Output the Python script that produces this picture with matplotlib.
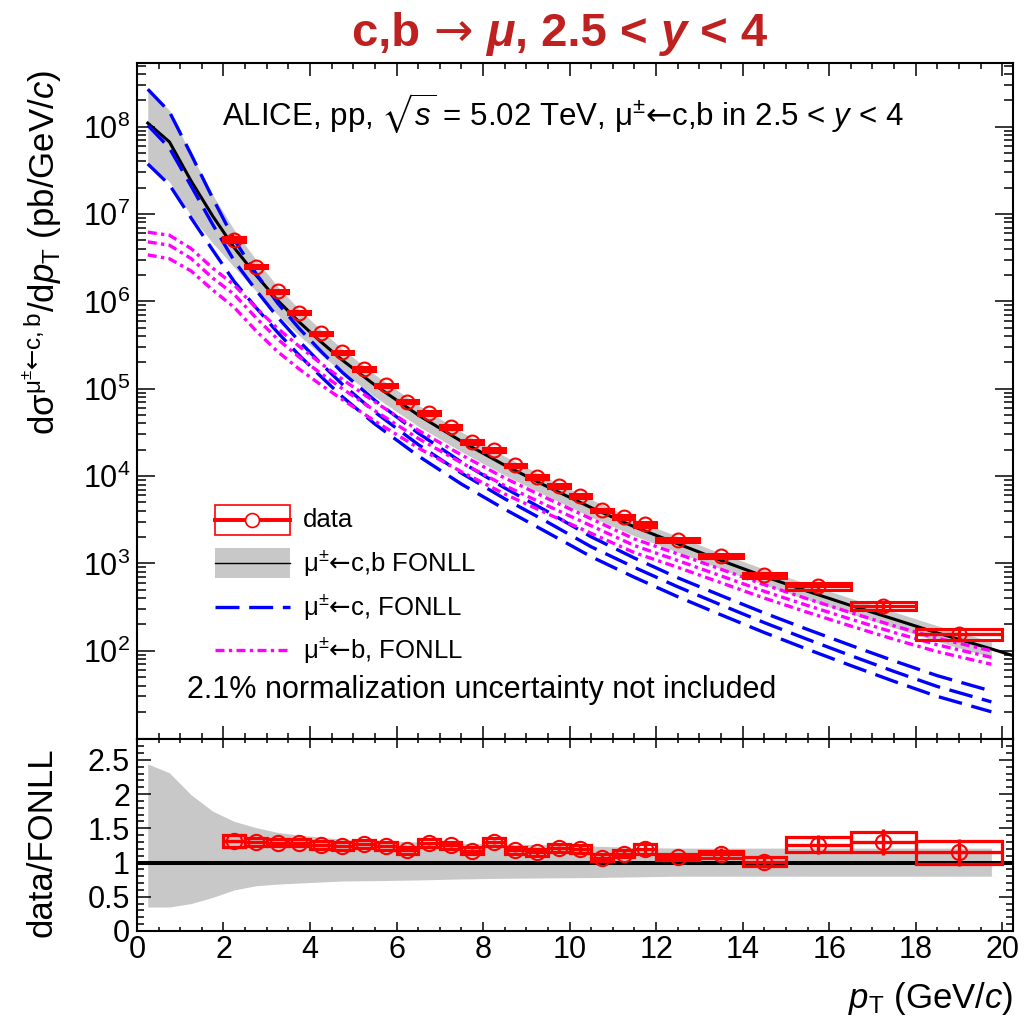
import numpy as np
import matplotlib
matplotlib.use('Agg')
from matplotlib import pyplot as plt
import matplotlib.patches as mpatches
from matplotlib.lines import Line2D
from matplotlib.ticker import FixedLocator, MultipleLocator, LogLocator, NullFormatter, FuncFormatter

plt.rcParams['font.family'] = ['Liberation Sans', 'DejaVu Sans']
plt.rcParams['mathtext.fontset'] = 'custom'
plt.rcParams['mathtext.rm'] = 'Liberation Sans'
plt.rcParams['mathtext.it'] = 'Liberation Sans:italic'
plt.rcParams['mathtext.bf'] = 'Liberation Sans:bold'
plt.rcParams['mathtext.sf'] = 'DejaVu Sans'
plt.rcParams['mathtext.fallback'] = 'stixsans'

## measured points (pT bins)
pt_lo = [2, 2.5, 3, 3.5, 4, 4.5, 5, 5.5, 6, 6.5, 7, 7.5, 8, 8.5, 9, 9.5,
         10, 10.5, 11, 11.5, 12, 13, 14, 15, 16.5, 18]
pt_hi = [2.5, 3, 3.5, 4, 4.5, 5, 5.5, 6, 6.5, 7, 7.5, 8, 8.5, 9, 9.5, 10,
         10.5, 11, 11.5, 12, 13, 14, 15, 16.5, 18, 20]
pt_pt = [2.25, 2.75, 3.25, 3.75, 4.25, 4.75, 5.25, 5.75, 6.25, 6.75, 7.25,
         7.75, 8.25, 8.75, 9.25, 9.75, 10.25, 10.75, 11.25, 11.75, 12.5,
         13.5, 14.5, 15.75, 17.25, 19]
xsec = [5.1e6, 2.5e6, 1.3e6, 7.4e5, 4.3e5, 2.6e5, 1.69e5, 1.09e5, 7.1e4,
        5.3e4, 3.66e4, 2.47e4, 1.98e4, 1.33e4, 9.8e3, 7.7e3, 5.9e3, 4.07e3,
        3.41e3, 2.81e3, 1.85e3, 1.21e3, 733, 548, 326, 157]
stat_rel = [0.01, 0.01, 0.01, 0.01, 0.01, 0.01, 0.015, 0.015, 0.015, 0.02,
            0.02, 0.02, 0.025, 0.025, 0.03, 0.03, 0.035, 0.05, 0.05, 0.05,
            0.05, 0.08, 0.09, 0.11, 0.15, 0.17]
syst_rel = [0.065, 0.045, 0.04, 0.04, 0.045, 0.045, 0.045, 0.045, 0.045,
            0.045, 0.045, 0.045, 0.045, 0.045, 0.045, 0.045, 0.045, 0.045,
            0.045, 0.06, 0.047, 0.046, 0.063, 0.085, 0.11, 0.145]
ratio = [1.31, 1.30, 1.29, 1.29, 1.26, 1.24, 1.27, 1.24, 1.18, 1.28, 1.25,
         1.17, 1.30, 1.18, 1.15, 1.21, 1.20, 1.07, 1.13, 1.20, 1.08, 1.12,
         1.01, 1.26, 1.30, 1.15]

## FONLL
pt_th = [0.25, 0.75, 1.25, 1.75, 2.25, 2.75, 3.25, 3.75, 4.25, 4.75, 5.5,
         6.5, 7.5, 8.5, 9.5, 10.5, 11.5, 12.5, 13.5, 14.5, 15.5, 16.5, 17.5,
         18.5, 19.75]
fonll_tot = [1.1e8, 6.7e7, 2.4e7, 9.5e6, 4.1e6, 2.0e6, 1.03e6, 5.8e5, 3.45e5,
             2.12e5, 1.1e5, 5.0e4, 2.5e4, 1.33e4, 7.5e3, 4.35e3, 2.62e3,
             1.68e3, 1.08e3, 710, 480, 330, 230, 160, 105]
tot_up = [2.44, 2.31, 1.99, 1.75, 1.60, 1.51, 1.44, 1.40, 1.37, 1.34, 1.32,
          1.30, 1.28, 1.27, 1.26, 1.24, 1.22, 1.21, 1.21, 1.21, 1.21, 1.21,
          1.21, 1.21, 1.21]
tot_lo = [0.35, 0.35, 0.40, 0.49, 0.60, 0.66, 0.685, 0.70, 0.715, 0.73,
          0.735, 0.745, 0.76, 0.77, 0.775, 0.78, 0.79, 0.80, 0.80, 0.80,
          0.80, 0.80, 0.80, 0.80, 0.80]
# central line goes on to the axis end
pt_tot_end = 20.25
fonll_tot_end = 88

fonll_c = [1.04e8, 5.7e7, 2.1e7, 7.6e6, 2.9e6, 1.35e6, 6.6e5, 3.5e5, 1.95e5,
           1.12e5, 5.4e4, 2.3e4, 1.08e4, 5.5e3, 2.95e3, 1.55e3, 900, 540,
           335, 210, 135, 88, 58, 39, 26]
c_up = [2.58, 2.6, 2.3, 2.0, 1.75, 1.55, 1.45, 1.40, 1.38, 1.37, 1.36, 1.35,
        1.34, 1.33, 1.32, 1.30, 1.28, 1.27, 1.28, 1.29, 1.30, 1.31, 1.32,
        1.33, 1.33]
c_lo = [0.36, 0.38, 0.43, 0.51, 0.58, 0.63, 0.67, 0.69, 0.71, 0.72, 0.73,
        0.74, 0.75, 0.76, 0.76, 0.77, 0.77, 0.77, 0.77, 0.77, 0.77, 0.77,
        0.77, 0.77, 0.77]

fonll_b = [4.8e6, 4.4e6, 3.1e6, 1.85e6, 1.2e6, 6.5e5, 3.7e5, 2.3e5, 1.5e5,
           1.0e5, 5.6e4, 2.7e4, 1.42e4, 7.8e3, 4.55e3, 2.7e3, 1.6e3, 1.08e3,
           720, 480, 330, 230, 162, 117, 84]
b_up = [1.29, 1.30, 1.30, 1.30, 1.28, 1.30, 1.33, 1.33, 1.30, 1.28, 1.26,
        1.24, 1.23, 1.22, 1.21, 1.20, 1.19, 1.19, 1.19, 1.19, 1.19, 1.19,
        1.19, 1.19, 1.19]
b_lo = [0.71, 0.70, 0.72, 0.73, 0.71, 0.71, 0.72, 0.73, 0.74, 0.75, 0.76,
        0.78, 0.79, 0.80, 0.81, 0.82, 0.83, 0.835, 0.835, 0.835, 0.835,
        0.835, 0.835, 0.835, 0.835]

red = '#ff0000'
grey = '#c8c8c8'
blue = '#0000ff'
magenta = '#ff00ff'
larr = '$\\mathsf{\u2190}$'   # arrow taken from DejaVu, longer than Liberation's
mupm = '\u03bc$^{\\pm}$'

pt_th = np.array(pt_th)
tot = np.array(fonll_tot)
cc = np.array(fonll_c)
bb = np.array(fonll_b)

fig = plt.figure(figsize=(10.36, 10.18), dpi=100)
ax1 = fig.add_axes([0.1322, 0.2738, 0.8456, 0.6646])
ax2 = fig.add_axes([0.1322, 0.0855, 0.8456, 0.1883])

#### top panel
ax1.set_yscale('log')
ax1.fill_between(pt_th, tot * np.array(tot_lo), tot * np.array(tot_up),
                 color=grey, lw=0, zorder=1)
ax1.plot(list(pt_th) + [pt_tot_end], list(tot) + [fonll_tot_end],
         color='k', lw=2.2, zorder=3)

dash_c = (7.2, 2.9)
dash_b = (2.7, 1.3, 1.0, 1.3)
for f in [c_up, [1] * len(pt_th), c_lo]:
    ax1.plot(pt_th, cc * np.array(f), color=blue, lw=2.4, dashes=dash_c,
             dash_capstyle='butt', zorder=4)
for f in [b_up, [1] * len(pt_th), b_lo]:
    ax1.plot(pt_th, bb * np.array(f), color=magenta, lw=2.4, dashes=dash_b,
             dash_capstyle='butt', zorder=4)

for i in range(len(pt_pt)):
    y = xsec[i]
    s = syst_rel[i]
    ax1.add_patch(mpatches.Rectangle((pt_lo[i], y * (1 - s)), pt_hi[i] - pt_lo[i],
                                     2 * s * y, fill=False, ec=red, lw=2.2, zorder=6))
xerr = [np.array(pt_pt) - np.array(pt_lo), np.array(pt_hi) - np.array(pt_pt)]
ax1.errorbar(pt_pt, xsec, xerr=xerr, yerr=np.array(xsec) * np.array(stat_rel),
             fmt='o', ms=10, mfc='none', mec=red, mew=1.5, ecolor=red,
             elinewidth=2.4, capsize=0, zorder=7)

ax1.set_xlim(0, 20.25)
ax1.set_ylim(9.7, 5.4e8)
ax1.yaxis.set_major_locator(FixedLocator([1e2, 1e3, 1e4, 1e5, 1e6, 1e7, 1e8]))
ax1.yaxis.set_minor_locator(LogLocator(base=10, subs=np.arange(2, 10)))
ax1.yaxis.set_minor_formatter(NullFormatter())
ax1.xaxis.set_major_locator(MultipleLocator(2))
ax1.xaxis.set_minor_locator(MultipleLocator(0.5))
ax1.set_xticklabels([])
ax1.tick_params(which='both', direction='in', top=True, right=True, width=1.1)
ax1.tick_params(axis='x', which='major', length=9.5)
ax1.tick_params(axis='x', which='minor', length=4.5)
ax1.tick_params(axis='y', which='major', length=13)
ax1.tick_params(axis='y', which='minor', length=6.5)
ax1.tick_params(axis='y', labelsize=22, pad=5)

ax1.text(0.097, 0.926, 'ALICE, pp, $\\sqrt{s}$ = 5.02 TeV, ' + mupm + larr + 'c,b in 2.5 < $y$ < 4',
         transform=ax1.transAxes, fontsize=22.5, va='center', ha='left')
ax1.text(0.057, 0.073, '2.1% normalization uncertainty not included',
         transform=ax1.transAxes, fontsize=22, va='center', ha='left')

## legend drawn by hand
lx0, lx1, ltx = 0.089, 0.1747, 0.1895
ly = [0.3241, 0.2606, 0.1955, 0.1320]
bh = 0.0443
T = ax1.transAxes
ax1.add_patch(mpatches.Rectangle((lx0, ly[0] - bh / 2), lx1 - lx0, bh, fill=False,
                                 ec=red, lw=1.2, transform=T, zorder=8))
ax1.add_line(Line2D([lx0, lx1], [ly[0], ly[0]], color=red, lw=2.8, transform=T, zorder=8))
ax1.add_line(Line2D([(lx0 + lx1) / 2], [ly[0]], marker='o', ms=10, mfc='white',
                    mec=red, mew=1.2, transform=T, zorder=9))
ax1.add_patch(mpatches.Rectangle((lx0, ly[1] - bh / 2), lx1 - lx0, bh, color=grey,
                                 lw=0, transform=T, zorder=8))
ax1.add_line(Line2D([lx0, lx1], [ly[1], ly[1]], color='k', lw=1.0, transform=T, zorder=9))
ax1.add_line(Line2D([lx0, lx1], [ly[2], ly[2]], color=blue, lw=2.4, dashes=dash_c,
                    transform=T, zorder=8))
ax1.add_line(Line2D([lx0, lx1], [ly[3], ly[3]], color=magenta, lw=2.4, dashes=dash_b,
                    transform=T, zorder=8))
leg_labels = ['data', mupm + larr + 'c,b FONLL',
              mupm + larr + 'c, FONLL', mupm + larr + 'b, FONLL']
for yy, lab in zip(ly, leg_labels):
    ax1.text(ltx, yy, lab, transform=T, fontsize=18.5, va='center', ha='left')

#### ratio panel
rat_up = np.array(tot_up)
rat_lo = np.array(tot_lo)
ax2.fill_between(pt_th, rat_lo, rat_up, color=grey, lw=0, zorder=1)
ax2.axhline(1, color='k', lw=2.9, zorder=3)
for i in range(len(pt_pt)):
    r = ratio[i]
    s = syst_rel[i] * r
    ax2.add_patch(mpatches.Rectangle((pt_lo[i], r - s), pt_hi[i] - pt_lo[i], 2 * s,
                                     fill=False, ec=red, lw=2.3, zorder=6))
ax2.errorbar(pt_pt, ratio, xerr=xerr, yerr=np.array(ratio) * np.array(stat_rel),
             fmt='o', ms=11, mfc='none', mec=red, mew=1.5, ecolor=red,
             elinewidth=2.4, capsize=0, zorder=7)

ax2.set_xlim(0, 20.25)
ax2.set_ylim(0, 2.8)
ax2.xaxis.set_major_locator(MultipleLocator(2))
ax2.xaxis.set_minor_locator(MultipleLocator(0.5))
ax2.yaxis.set_major_locator(FixedLocator([0, 0.5, 1, 1.5, 2, 2.5]))
ax2.yaxis.set_minor_locator(MultipleLocator(0.1))
ax2.yaxis.set_major_formatter(FuncFormatter(lambda v, p: '%g' % v))
ax2.tick_params(which='both', direction='in', top=True, right=True, width=1.1)
ax2.tick_params(axis='x', which='major', length=6.5, labelsize=22, pad=3)
ax2.tick_params(axis='x', which='minor', length=3.2)
ax2.tick_params(axis='y', which='major', length=10, labelsize=22, pad=5)
ax2.tick_params(axis='y', which='minor', length=5)

for ax in (ax1, ax2):
    for sp in ax.spines.values():
        sp.set_linewidth(1.5)

## axis titles
fig.text(0.041, 1 - 70 / 1018., 'd\u03c3$^{\\mathrm{\u03bc^{\u00b1}}\\mathsf{\u2190}\\mathrm{c,b}}$/d$p_{\\mathrm{T}}$ (pb/GeV/$c$)',
         rotation=90, fontsize=25, ha='center', va='top')
fig.text(0.041, 1 - 937 / 1018., 'data/FONLL', rotation=90, fontsize=25,
         ha='center', va='bottom')
fig.text(0.9778, 1 - 1008 / 1018., '$p_{\\mathrm{T}}$ (GeV/$c$)', fontsize=25,
         ha='right', va='baseline')

## title, in pieces so mu and y can be italic
title_col = '#bf2020'
tfam = ['Liberation Sans Narrow', 'Liberation Sans', 'DejaVu Sans']
pieces = [('c,b ', 'normal', tfam), ('\u2192', 'normal', ['DejaVu Sans']),
          (' ', 'normal', tfam), ('\u03bc', 'italic', tfam),
          (', 2.5 < ', 'normal', tfam), ('y', 'italic', tfam), (' < 4', 'normal', tfam)]
ybase = 1 - 46 / 1018.
tlist = []
for txt, sty, fam in pieces:
    w = 'normal' if fam == ['DejaVu Sans'] else 'bold'
    tlist.append(fig.text(0.34, ybase, txt, fontsize=34, fontweight=w, style=sty,
                          color=title_col, family=fam, ha='left', va='baseline'))
fig.canvas.draw()
rend = fig.canvas.get_renderer()
x = tlist[0].get_window_extent(rend).x1
for t in tlist[1:]:
    t.set_x(x / fig.bbox.width)
    x = t.get_window_extent(rend).x1

fig.savefig('out.png', dpi=100)
